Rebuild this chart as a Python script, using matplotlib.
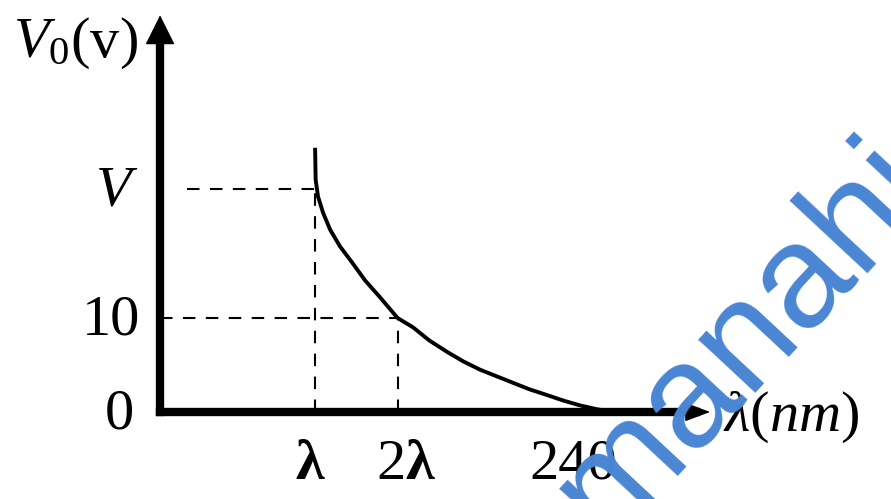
import matplotlib
matplotlib.use("Agg")
import matplotlib.pyplot as plt

plt.rcParams['font.family'] = ['Liberation Serif', 'DejaVu Serif']
plt.rcParams['mathtext.fontset'] = 'custom'
plt.rcParams['mathtext.rm'] = 'Liberation Serif'
plt.rcParams['mathtext.it'] = 'Liberation Serif:italic'
plt.rcParams['mathtext.bf'] = 'Liberation Serif:bold'

# stopping potential curve (schematic units: x in nm, y in volts)
curve_x = [90.1, 90.4, 91.8, 94.7, 98.8, 104.6, 111.6, 119.1, 127.8, 138.0,
           147.0, 156.5, 166.7, 176.0, 185.9, 195.5, 205.1, 214.8, 224.8,
           234.5, 244.0, 253.5, 263.2]
curve_y = [27.9, 24.7, 22.9, 21.2, 19.4, 17.6, 15.9, 14.0, 12.2, 10.0,
           9.0, 7.6, 6.4, 5.4, 4.5, 3.8, 3.1, 2.4, 1.8, 1.2, 0.7, 0.3, 0.0]

lam_x = 90.0        # where lambda sits on the axis
two_lam_x = 138.0   # where 2*lambda sits
cutoff_x = 240.0    # threshold wavelength label
V_level = 23.7
ten_level = 10.0

x_tick_labels = [r'$\mathbf{\lambda}$', r'$2\mathbf{\lambda}$', '240']
y_tick_labels = ['0', '10', r'$V$']

fig = plt.figure(figsize=(8.91, 4.99), dpi=100)
ax = fig.add_axes([0, 0, 1, 1])
ax.set_xlim(-93.0, 424.7)
ax.set_ylim(-9.26, 43.83)
ax.axis('off')

# axes with arrow heads
x_tip, y_tip = 319.6, 42.2
ax.plot([0, x_tip - 8], [0, 0], color='black', lw=6, solid_capstyle='projecting')
ax.plot([0, 0], [0, y_tip - 2], color='black', lw=6, solid_capstyle='projecting')
ax.annotate('', xy=(x_tip, 0), xytext=(x_tip - 20, 0),
            arrowprops=dict(arrowstyle='-|>,head_length=0.4,head_width=0.15',
                            mutation_scale=40, lw=1, color='black',
                            shrinkA=0, shrinkB=0))
ax.annotate('', xy=(0, y_tip), xytext=(0, y_tip - 5),
            arrowprops=dict(arrowstyle='-|>,head_length=0.4,head_width=0.2',
                            mutation_scale=48, lw=1, color='black',
                            shrinkA=0, shrinkB=0))

# guide lines
dash = (0, (6, 5))
ax.plot([15.7, lam_x], [V_level, V_level], color='black', lw=1.5, ls=dash)
ax.plot([lam_x, lam_x], [0, V_level], color='black', lw=1.5, ls=dash)
ax.plot([0, two_lam_x], [ten_level, ten_level], color='black', lw=1.5, ls=dash)
ax.plot([two_lam_x, two_lam_x], [0, ten_level], color='black', lw=1.5, ls=dash)

# the curve
ax.plot(curve_x, curve_y, color='black', lw=2.8, solid_joinstyle='round')

fs = 42
# x tick labels
for xv, lab, dx in zip([lam_x, two_lam_x, cutoff_x], x_tick_labels, [-3, 6, 0]):
    ax.annotate(lab, xy=(xv, 0), xytext=(dx, -38), textcoords='offset points',
                ha='center', va='center', fontsize=fs)

# y tick labels
for yv, lab, dx in zip([0, ten_level, V_level], y_tick_labels, [-29, -35, -31]):
    ax.annotate(lab, xy=(0, yv), xytext=(dx, -2), textcoords='offset points',
                ha='center', va='center', fontsize=fs)

# axis titles
ax.annotate(r'$V_0(\mathrm{v})$', xy=(0, y_tip), xytext=(-106, -20),
            textcoords='offset points', ha='left', va='center', fontsize=fs)
ax.annotate(r'$\lambda(nm)$', xy=(x_tip, 0), xytext=(9, -4),
            textcoords='offset points', ha='left', va='center', fontsize=fs)

# watermark
ax.text(339.0, 7.7, 'manahi', rotation=47, rotation_mode='anchor',
        ha='center', va='center', fontsize=106, color='#4a86d4',
        family='Liberation Sans', zorder=10)

fig.savefig('out.png', dpi=100)
